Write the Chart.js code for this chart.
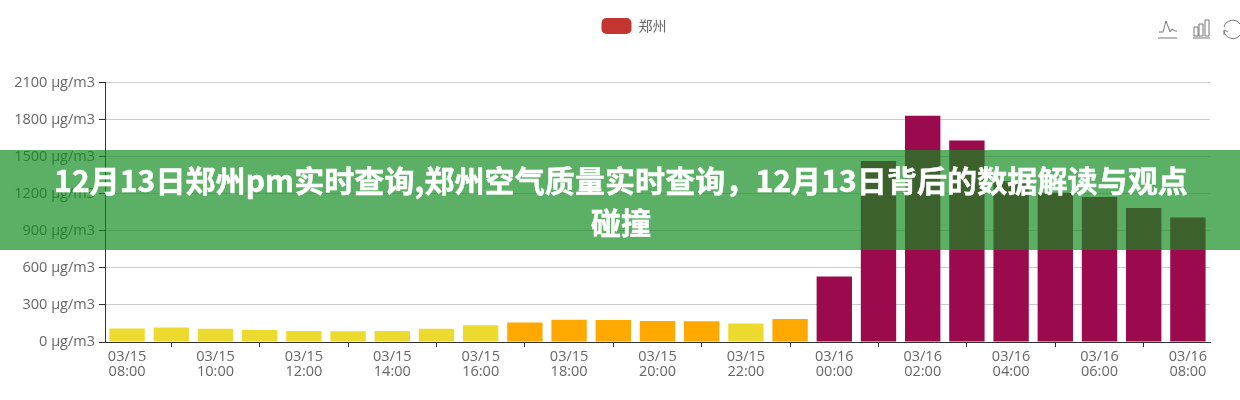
<!DOCTYPE html>
<html lang="zh-CN">
<head>
  <meta charset="UTF-8">
  <title>12月13日郑州pm实时查询</title>
  <script src="https://cdn.jsdelivr.net/npm/chart.js"></script>
  <style>
    html, body { margin: 0; padding: 0; background: #fff; overflow: hidden; }
    .chart-container { position: absolute; left: 0; top: 0; width: 1240px; height: 400px; }
    /* green title strip over the chart */
    .banner {
      position: absolute; left: 0; top: 150px; width: 1240px; height: 100px;
      background: rgba(15, 139, 30, 0.68);
      color: #fff; text-align: center;
      font: bold 30px/42px "Noto Sans CJK SC", sans-serif;
      letter-spacing: 0.1px;
      -webkit-text-stroke: 0.5px #fff;
      padding: 8px 43px 0 45px; box-sizing: border-box;
    }
    .tools { position: absolute; left: 1155px; top: 18px; }
  </style>
</head>
<body>

<div class="chart-container">
  <canvas id="pmChart" width="1240" height="400"></canvas>
</div>

<!-- toolbar icons -->
<svg class="tools" width="85" height="24" fill="none" stroke="#777" stroke-width="1">
  <path d="M4 14 L8 14 L11 3 L15 14 L17 11 L20 13 L22 13"/><path d="M3 20 H22"/>
  <path d="M39 9 h4 v9 h-4 z M44 6 h4 v12 h-4 z M50 2 h4 v16 h-4 z"/><path d="M38 20 H55"/>
  <path d="M85 6 A9 9 0 0 0 69 9"/><path d="M69 13 A9 9 0 0 0 85 17"/><path d="M69 17 L69 12 L73 14"/>
</svg>

<div class="banner">12月13日郑州pm实时查询,郑州空气质量实时查询，12月13日背后的数据解读与观点碰撞</div>

<script>
  const seriesName = '郑州';
  const categories = [
    ['03/15', '08:00'], ['03/15', '09:00'], ['03/15', '10:00'], ['03/15', '11:00'], ['03/15', '12:00'],
    ['03/15', '13:00'], ['03/15', '14:00'], ['03/15', '15:00'], ['03/15', '16:00'], ['03/15', '17:00'],
    ['03/15', '18:00'], ['03/15', '19:00'], ['03/15', '20:00'], ['03/15', '21:00'], ['03/15', '22:00'],
    ['03/15', '23:00'], ['03/16', '00:00'], ['03/16', '01:00'], ['03/16', '02:00'], ['03/16', '03:00'],
    ['03/16', '04:00'], ['03/16', '05:00'], ['03/16', '06:00'], ['03/16', '07:00'], ['03/16', '08:00']
  ];
  const pmValues = [110, 118, 108, 97, 89, 87, 89, 108, 135, 157, 181, 178, 170, 168, 150, 186,
    531, 1465, 1830, 1630, 1300, 1208, 1173, 1085, 1007];
  const yTicks = [0, 300, 600, 900, 1200, 1500, 1800, 2100];

  const axisColor = '#333';
  const textColor = '#666';

  // bar colour follows the pollution level
  function levelColor(v) {
    if (v > 500) return '#9c0a4e';
    if (v > 150) return '#ffa800';
    return '#ecdb2e';
  }

  // the legend sits right of centre and well above the plot in the original
  const moveLegend = {
    id: 'moveLegend',
    afterLayout(chart) {
      const l = chart.legend;
      l.left += 29; l.right += 29;
      l.top -= 38.5; l.bottom -= 38.5;
    }
  };

  const ctx = document.getElementById('pmChart').getContext('2d');
  new Chart(ctx, {
    type: 'bar',
    plugins: [moveLegend],
    data: {
      labels: categories,
      datasets: [{
        label: seriesName,
        data: pmValues,
        backgroundColor: c => levelColor(c.raw),
        categoryPercentage: 0.8,
        barPercentage: 1
      }]
    },
    options: {
      responsive: false,
      animation: false,
      layout: { padding: { top: 46.5, right: 30, bottom: 18, left: 0 } },
      scales: {
        x: {
          grid: {
            offset: false,
            drawOnChartArea: false,
            tickLength: 5,
            tickColor: c => (c.index % 2 ? axisColor : 'transparent')
          },
          border: { color: axisColor },
          ticks: {
            autoSkip: false,
            maxRotation: 0,
            color: textColor,
            padding: 3,
            font: { family: '"Open Sans", sans-serif', size: 14.5, lineHeight: 1 },
            callback: function (v, i) { return i % 2 ? '' : categories[i]; }
          }
        },
        y: {
          min: 0,
          max: 2100,
          afterFit: s => { s.width = 105; },
          afterBuildTicks: s => { s.ticks = yTicks.map(v => ({ value: v })); },
          grid: { color: '#ccc', tickColor: axisColor, tickLength: 6 },
          border: { color: axisColor },
          ticks: {
            color: textColor,
            padding: 4,
            font: { family: '"Open Sans", sans-serif', size: 14.5 },
            callback: v => v + ' μg/m3'
          }
        }
      },
      plugins: {
        tooltip: { enabled: false },
        legend: {
          position: 'top',
          labels: {
            boxWidth: 30,
            boxHeight: 16,
            color: textColor,
            font: { family: '"Noto Sans CJK SC", sans-serif', size: 14 },
            generateLabels: () => [{
              text: seriesName, fillStyle: '#c23531', strokeStyle: '#c23531', lineWidth: 0,
              borderRadius: 5, fontColor: textColor
            }]
          }
        }
      }
    }
  });
</script>

</body>
</html>
